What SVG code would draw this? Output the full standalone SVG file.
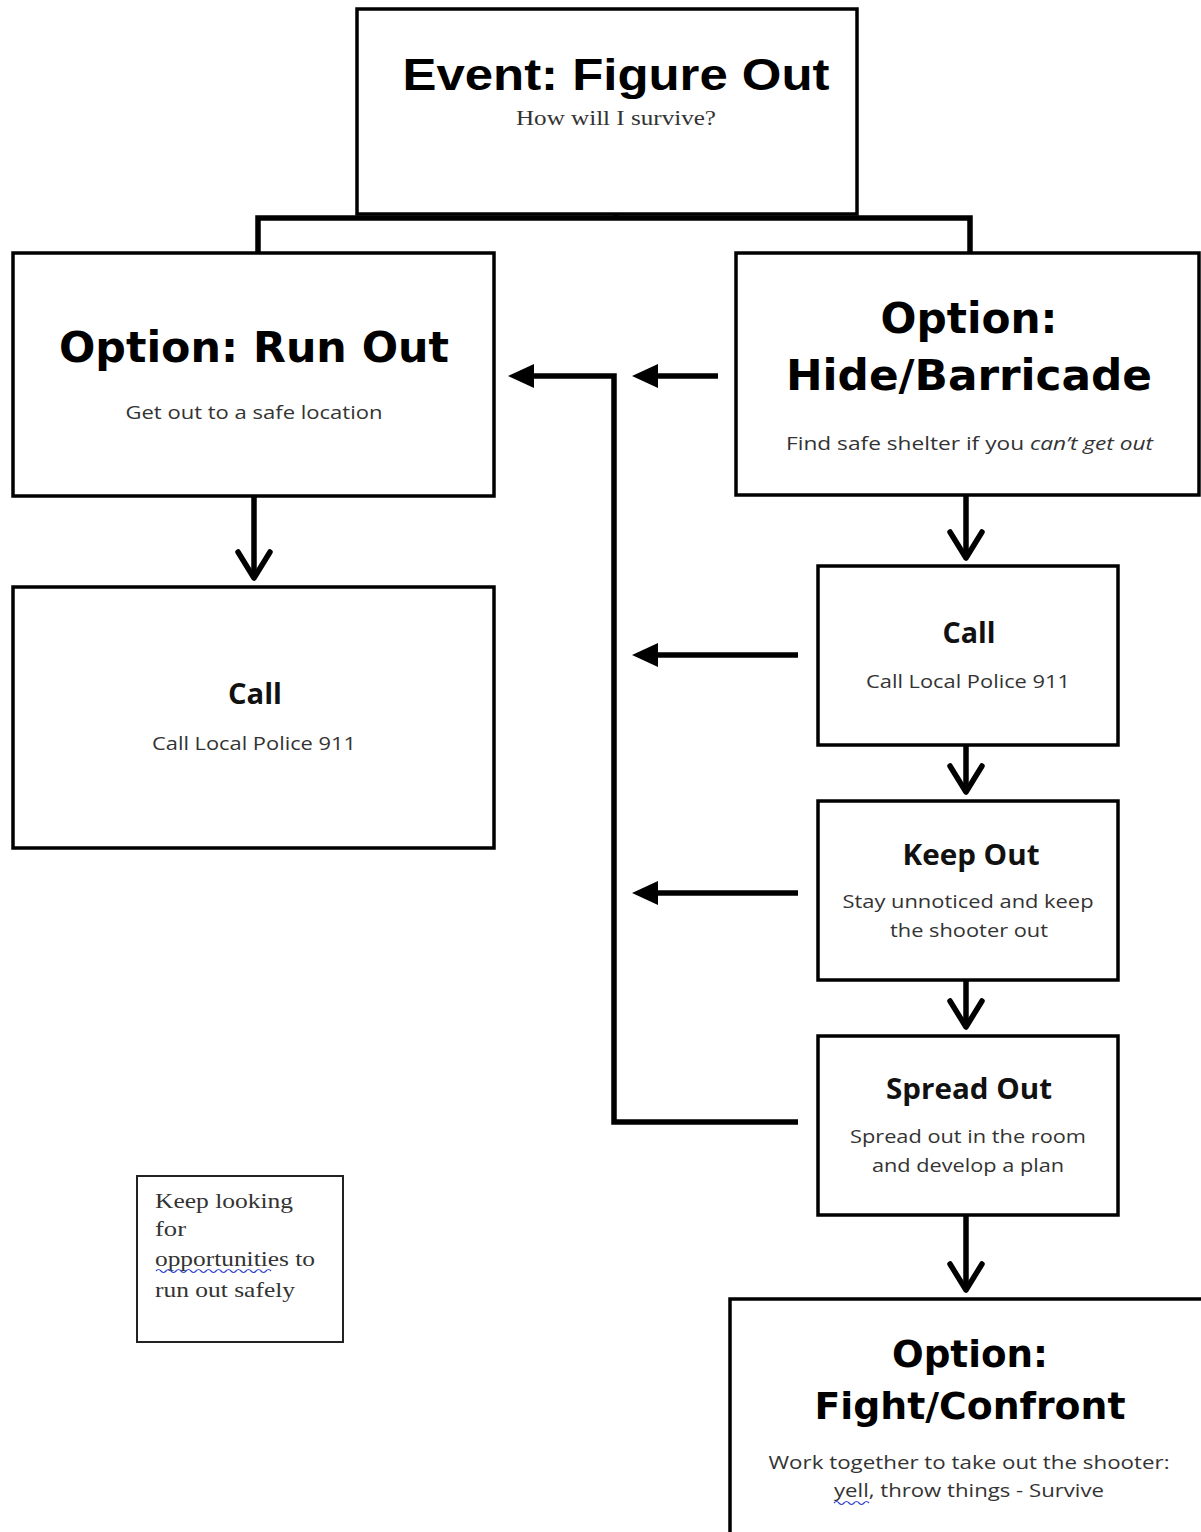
<svg xmlns="http://www.w3.org/2000/svg" width="1201" height="1532" viewBox="0 0 1201 1532">
<style>
.box{fill:#fff;stroke:#000;stroke-width:3.5}
.note{fill:#fff;stroke:#222;stroke-width:2}
.t1{font-family:"Liberation Sans",Arial,sans-serif;font-weight:bold;fill:#000}
.t2{font-family:"DejaVu Sans",Verdana,sans-serif;font-weight:bold;fill:#000}
.t3{font-family:"Open Sans","Noto Sans",sans-serif;font-weight:bold;fill:#111}
.sub{font-family:"Open Sans","Noto Sans",sans-serif;fill:#333;font-size:19px}
.ser{font-family:"Liberation Serif","Times New Roman",serif;fill:#333}
.con{fill:none;stroke:#000;stroke-width:5.5}
.wave{fill:none;stroke:#3344cc;stroke-width:1.2}
</style>
<defs>
<marker id="tri" markerUnits="userSpaceOnUse" markerWidth="30" markerHeight="26" refX="4" refY="12" orient="auto">
<path d="M0,0 L26,12 L0,24 z" fill="#000"/>
</marker>
<marker id="chev" markerUnits="userSpaceOnUse" markerWidth="36" markerHeight="40" refX="30" refY="19" orient="auto">
<path d="M4,3 L30,19 L4,35" fill="none" stroke="#000" stroke-width="5.5" stroke-linejoin="round" stroke-linecap="round"/>
</marker>
</defs>

<g id="connectors">
<line class="con" x1="616" y1="190" x2="616" y2="216"/>
<path class="con" d="M258,252 L258,218 L970,218 L970,252"/>
<line class="con" x1="718" y1="376" x2="654" y2="376" marker-end="url(#tri)"/>
<path class="con" d="M798,1122 L614,1122 L614,376 L530,376" marker-end="url(#tri)"/>
<line class="con" x1="798" y1="655" x2="654" y2="655" marker-end="url(#tri)"/>
<line class="con" x1="798" y1="893" x2="654" y2="893" marker-end="url(#tri)"/>
<line class="con" x1="254" y1="497" x2="254" y2="578" marker-end="url(#chev)"/>
<line class="con" x1="966" y1="496" x2="966" y2="558" marker-end="url(#chev)"/>
<line class="con" x1="966" y1="746" x2="966" y2="792" marker-end="url(#chev)"/>
<line class="con" x1="966" y1="981" x2="966" y2="1027" marker-end="url(#chev)"/>
<line class="con" x1="966" y1="1216" x2="966" y2="1290" marker-end="url(#chev)"/>
</g>

<g id="event">
<rect class="box" x="357" y="9" width="500" height="205"/>
<text class="t1" x="616" y="90" font-size="44" text-anchor="middle" textLength="427" lengthAdjust="spacingAndGlyphs">Event: Figure Out</text>
<text class="ser" x="616" y="125" font-size="20" text-anchor="middle" textLength="200" lengthAdjust="spacingAndGlyphs">How will I survive?</text>
</g>

<g id="run-out">
<rect class="box" x="13" y="253" width="481" height="243"/>
<text class="t2" x="254" y="362" font-size="42" text-anchor="middle" textLength="390" lengthAdjust="spacingAndGlyphs">Option: Run Out</text>
<text class="sub" x="254" y="419" text-anchor="middle" textLength="257" lengthAdjust="spacingAndGlyphs">Get out to a safe location</text>
</g>

<g id="hide">
<rect class="box" x="736" y="253" width="463" height="242"/>
<text class="t2" x="969" y="333" font-size="42" text-anchor="middle" textLength="177" lengthAdjust="spacingAndGlyphs">Option:</text>
<text class="t2" x="969" y="390" font-size="42" text-anchor="middle" textLength="366" lengthAdjust="spacingAndGlyphs">Hide/Barricade</text>
<text class="sub" x="786" y="450" textLength="367" lengthAdjust="spacingAndGlyphs">Find safe shelter if you <tspan font-style="italic">can’t get out</tspan></text>
</g>

<g id="call-left">
<rect class="box" x="13" y="587" width="481" height="261"/>
<text class="t3" x="255" y="704" font-size="29" text-anchor="middle" textLength="54" lengthAdjust="spacingAndGlyphs">Call</text>
<text class="sub" x="254" y="750" text-anchor="middle" textLength="204" lengthAdjust="spacingAndGlyphs">Call Local Police 911</text>
</g>

<g id="call-right">
<rect class="box" x="818" y="566" width="300" height="179"/>
<text class="t3" x="969" y="643" font-size="29" text-anchor="middle" textLength="53" lengthAdjust="spacingAndGlyphs">Call</text>
<text class="sub" x="968" y="688" text-anchor="middle" textLength="204" lengthAdjust="spacingAndGlyphs">Call Local Police 911</text>
</g>

<g id="keep-out">
<rect class="box" x="818" y="801" width="300" height="179"/>
<text class="t3" x="971" y="865" font-size="29" text-anchor="middle" textLength="137" lengthAdjust="spacingAndGlyphs">Keep Out</text>
<text class="sub" x="968" y="908" text-anchor="middle" textLength="251" lengthAdjust="spacingAndGlyphs">Stay unnoticed and keep</text>
<text class="sub" x="969" y="937" text-anchor="middle" textLength="158" lengthAdjust="spacingAndGlyphs">the shooter out</text>
</g>

<g id="spread-out">
<rect class="box" x="818" y="1036" width="300" height="179"/>
<text class="t3" x="969" y="1099" font-size="29" text-anchor="middle" textLength="166" lengthAdjust="spacingAndGlyphs">Spread Out</text>
<text class="sub" x="968" y="1143" text-anchor="middle" textLength="236" lengthAdjust="spacingAndGlyphs">Spread out in the room</text>
<text class="sub" x="968" y="1172" text-anchor="middle" textLength="192" lengthAdjust="spacingAndGlyphs">and develop a plan</text>
</g>

<g id="fight">
<path class="box" d="M730,1545 L730,1299 L1205,1299 L1205,1545"/>
<text class="t2" x="970" y="1367" font-size="38" text-anchor="middle" textLength="156" lengthAdjust="spacingAndGlyphs">Option:</text>
<text class="t2" x="970" y="1419" font-size="38" text-anchor="middle" textLength="311" lengthAdjust="spacingAndGlyphs">Fight/Confront</text>
<text class="sub" x="969" y="1469" text-anchor="middle" textLength="401" lengthAdjust="spacingAndGlyphs">Work together to take out the shooter:</text>
<text class="sub" x="969" y="1497" text-anchor="middle" textLength="270" lengthAdjust="spacingAndGlyphs">yell, throw things - Survive</text>
<path class="wave" d="M834,1503 q2.5,-3 5,0 t5,0 t5,0 t5,0 t5,0 t5,0 t5,0"/>
</g>

<g id="note">
<rect class="note" x="137" y="1176" width="206" height="166"/>
<text class="ser" x="155" y="1208" font-size="21" textLength="138" lengthAdjust="spacingAndGlyphs">Keep looking</text>
<text class="ser" x="155" y="1236" font-size="21" textLength="31" lengthAdjust="spacingAndGlyphs">for</text>
<text class="ser" x="155" y="1266" font-size="21" textLength="160" lengthAdjust="spacingAndGlyphs">opportunities to</text>
<text class="ser" x="155" y="1297" font-size="21" textLength="140" lengthAdjust="spacingAndGlyphs">run out safely</text>
<path class="wave" d="M156,1271 q2.5,-3 5,0 t5,0 t5,0 t5,0 t5,0 t5,0 t5,0 t5,0 t5,0 t5,0 t5,0 t5,0 t5,0 t5,0 t5,0 t5,0 t5,0 t5,0 t5,0 t5,0 t5,0 t5,0 t5,0"/>
</g>
</svg>
